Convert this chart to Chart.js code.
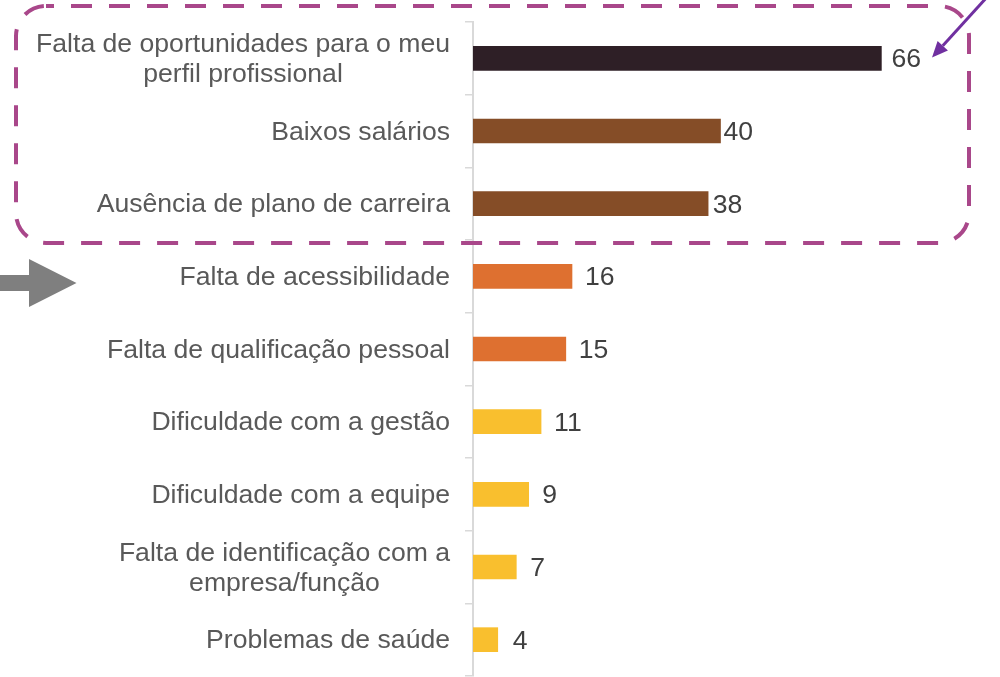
<!DOCTYPE html>
<html><head><meta charset="utf-8">
<style>html,body{margin:0;padding:0;background:#fff;overflow:hidden}canvas{display:block}</style>
<script src="https://cdn.jsdelivr.net/npm/chart.js@4.4.1/dist/chart.umd.min.js"></script>
</head><body>
<canvas id="c" width="1000" height="677"></canvas>
<script>
const categories = [
  ['Falta de oportunidades para o meu', 'perfil profissional'],
  'Baixos salários',
  'Ausência de plano de carreira',
  'Falta de acessibilidade',
  'Falta de qualificação pessoal',
  'Dificuldade com a gestão',
  'Dificuldade com a equipe',
  ['Falta de identificação com a', 'empresa/função'],
  'Problemas de saúde'
];
const values = [66, 40, 38, 16, 15, 11, 9, 7, 4];
const barColors = ['#2E1F26', '#854D27', '#854D27', '#DE7030', '#DE7030', '#F9BF2E', '#F9BF2E', '#F9BF2E', '#F9BF2E'];
const valueLabelGaps = [10, 3, 4.5, 13, 13, 13, 13.5, 14, 15];
const FONT = '26.6px "Liberation Sans", Arial, sans-serif';

const catLabels = {
  id: 'catLabels',
  afterDraw(chart) {
    const ctx = chart.ctx, ys = chart.scales.y;
    ctx.save();
    ctx.font = FONT; ctx.fillStyle = '#595959';
    ctx.textBaseline = 'alphabetic'; ctx.textAlign = 'center';
    const right = ys.right - 23;
    chart.data.labels.forEach((lab, i) => {
      const lines = Array.isArray(lab) ? lab : [lab];
      const w = Math.max(...lines.map(l => ctx.measureText(l).width));
      const cx = right - w / 2;
      const yc = ys.getPixelForValue(i);
      lines.forEach((l, j) => ctx.fillText(l, cx, yc + 8.5 + (j - (lines.length - 1) / 2) * 30));
    });
    ctx.restore();
  }
};

const valueLabels = {
  id: 'valueLabels',
  afterDatasetsDraw(chart) {
    const ctx = chart.ctx;
    const meta = chart.getDatasetMeta(0);
    const data = chart.data.datasets[0].data;
    ctx.save();
    ctx.font = FONT; ctx.fillStyle = '#404040';
    ctx.textAlign = 'left'; ctx.textBaseline = 'alphabetic';
    meta.data.forEach((bar, i) => {
      ctx.fillText(String(data[i]), bar.x + valueLabelGaps[i], bar.y + 9);
    });
    ctx.restore();
  }
};

const decor = {
  id: 'decor',
  afterDraw(chart) {
    const ctx = chart.ctx;
    ctx.save();
    // dashed rounded highlight box
    ctx.strokeStyle = '#A9478A';
    ctx.lineWidth = 4;
    ctx.setLineDash([21, 17]);
    ctx.lineDashOffset = 13;
    ctx.beginPath();
    ctx.roundRect(16, 6, 953, 237, 30);
    ctx.stroke();
    ctx.setLineDash([]);
    // purple arrow
    const tip = [932, 57.5], start = [988, -4];
    const dx = start[0] - tip[0], dy = start[1] - tip[1];
    const len = Math.hypot(dx, dy), ux = dx / len, uy = dy / len;
    const bx = tip[0] + ux * 16, by = tip[1] + uy * 16;
    const px = -uy, py = ux;
    ctx.strokeStyle = '#7030A0'; ctx.fillStyle = '#7030A0';
    ctx.lineWidth = 3;
    ctx.beginPath(); ctx.moveTo(start[0], start[1]); ctx.lineTo(bx, by); ctx.stroke();
    ctx.beginPath();
    ctx.moveTo(tip[0], tip[1]);
    ctx.lineTo(bx + px * 7, by + py * 7);
    ctx.lineTo(bx - px * 7, by - py * 7);
    ctx.closePath(); ctx.fill();
    // gray block arrow
    ctx.fillStyle = '#7F7F7F';
    ctx.beginPath();
    ctx.moveTo(-5, 275); ctx.lineTo(29, 275); ctx.lineTo(29, 259);
    ctx.lineTo(76.5, 283); ctx.lineTo(29, 307); ctx.lineTo(29, 291); ctx.lineTo(-5, 291);
    ctx.closePath(); ctx.fill();
    ctx.restore();
  }
};

new Chart(document.getElementById('c'), {
  type: 'bar',
  data: {
    labels: categories,
    datasets: [{
      data: values,
      backgroundColor: barColors,
      borderWidth: 0,
      barThickness: 24
    }]
  },
  options: {
    responsive: false,
    animation: false,
    devicePixelRatio: 1,
    indexAxis: 'y',
    layout: { padding: { top: 22, right: 32, bottom: 1, left: 0 } },
    plugins: { legend: { display: false }, tooltip: { enabled: false } },
    scales: {
      x: { display: false, min: 0, max: 80 },
      y: {
        grid: { drawOnChartArea: false, offset: true, tickLength: 8, color: '#D9D9D9', lineWidth: 1.5 },
        border: { display: true, color: '#D9D9D9', width: 2 },
        ticks: { display: false },
        afterFit: s => { s.width = 473; }
      }
    }
  },
  plugins: [catLabels, valueLabels, decor]
});
</script>
</body></html>
